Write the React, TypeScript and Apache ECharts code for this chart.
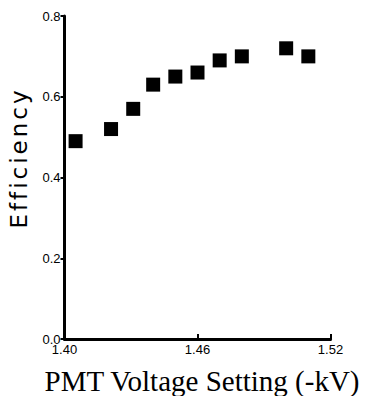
import React, { useEffect, useRef } from "react";
import * as echarts from "echarts";

const voltages = [1.405, 1.421, 1.431, 1.44, 1.45, 1.46, 1.47, 1.48, 1.5, 1.51];
const efficiency = [0.49, 0.52, 0.57, 0.63, 0.65, 0.66, 0.69, 0.7, 0.72, 0.7];
const xTicks = [1.4, 1.46, 1.52];
const yTicks = [0, 0.2, 0.4, 0.6, 0.8];
const xTitle = "PMT Voltage Setting (-kV)";
const yTitle = "Efficiency";

export default function App() {
  const ref = useRef<HTMLDivElement>(null);
  useEffect(() => {
    if (!ref.current) return;
    const chart = echarts.init(ref.current, null, { renderer: "svg" });
    const data = voltages.map((v, i) => [v, efficiency[i]]);
    chart.setOption({
      animation: false,
      backgroundColor: "#ffffff",
      grid: { left: 64.5, right: 39.5, top: 16, bottom: 57, outerBoundsMode: "none" },
      xAxis: {
        type: "value",
        min: 1.4,
        max: 1.52,
        splitLine: { show: false },
        axisLine: { show: true, lineStyle: { color: "#000", width: 3 } },
        axisTick: { show: true, inside: true, length: 5, lineStyle: { color: "#000", width: 2 }, customValues: xTicks },
        axisLabel: {
          customValues: xTicks,
          formatter: (v: number) => v.toFixed(2),
          color: "#000",
          fontFamily: "Liberation Sans",
          fontSize: 13,
          margin: 4,
        },
      },
      yAxis: {
        type: "value",
        min: 0,
        max: 0.8,
        interval: 0.2,
        splitLine: { show: false },
        axisLine: { show: true, lineStyle: { color: "#000", width: 3 } },
        axisTick: { show: true, inside: false, length: 4, lineStyle: { color: "#000", width: 2 }, customValues: yTicks },
        axisLabel: {
          customValues: yTicks,
          formatter: (v: number) => v.toFixed(1),
          color: "#000",
          fontFamily: "Liberation Sans",
          fontSize: 13,
          margin: 4,
        },
      },
      graphic: [
        {
          type: "text",
          x: 202,
          y: 381,
          style: {
            text: xTitle,
            fill: "#000",
            font: '29px "Liberation Serif"',
            textAlign: "center",
            textVerticalAlign: "middle",
          },
        },
        {
          type: "text",
          x: 19,
          y: 158,
          rotation: Math.PI / 2,
          style: {
            text: yTitle,
            fill: "#000",
            font: '23px "DejaVu Sans"',
            textAlign: "center",
            textVerticalAlign: "middle",
          },
        },
      ],
      series: [
        {
          type: "scatter",
          data,
          symbol: "rect",
          symbolSize: 14,
          itemStyle: { color: "#000", opacity: 1 },
        },
      ],
    });
    const texts = ref.current.querySelectorAll("text");
    texts.forEach((t) => {
      if (t.textContent === yTitle) {
        (t as SVGTextElement).style.letterSpacing = "3px";
      }
    });
    return () => chart.dispose();
  }, []);
  return (
    <div
      ref={ref}
      style={{ position: "fixed", left: 0, top: 0, width: 370, height: 396 }}
    />
  );
}
